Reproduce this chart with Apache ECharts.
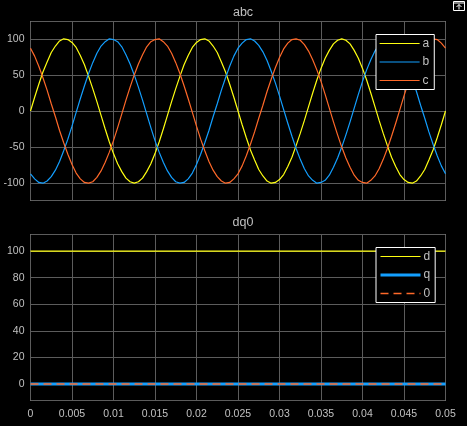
<!DOCTYPE html>
<html>
<head>
<meta charset="utf-8">
<style>
html,body{margin:0;padding:0;background:#000;}
#chart{width:467px;height:426px;}
</style>
<script src="https://cdn.jsdelivr.net/npm/echarts@6/dist/echarts.min.js"></script>
</head>
<body>
<div id="chart"></div>
<script>
const time = [0,0.0005,0.001,0.0015,0.002,0.0025,0.003,0.0035,0.004,0.0045,
  0.005,0.0055,0.006,0.0065,0.007,0.0075,0.008,0.0085,0.009,0.0095,
  0.010,0.0105,0.011,0.0115,0.012,0.0125,0.013,0.0135,0.014,0.0145,
  0.015,0.0155,0.016,0.0165,0.017,0.0175,0.018,0.0185,0.019,0.0195,
  0.020,0.0205,0.021,0.0215,0.022,0.0225,0.023,0.0235,0.024,0.0245,
  0.025,0.0255,0.026,0.0265,0.027,0.0275,0.028,0.0285,0.029,0.0295,
  0.030,0.0305,0.031,0.0315,0.032,0.0325,0.033,0.0335,0.034,0.0345,
  0.035,0.0355,0.036,0.0365,0.037,0.0375,0.038,0.0385,0.039,0.0395,
  0.040,0.0405,0.041,0.0415,0.042,0.0425,0.043,0.0435,0.044,0.0445,
  0.045,0.0455,0.046,0.0465,0.047,0.0475,0.048,0.0485,0.049,0.0495,0.050];
const aVals = [0,19,37,54,68,81,90,97,100,99,95,88,77,64,48,31,13,-6,-25,-43,
  -59,-73,-84,-93,-98,-100,-98,-93,-84,-73,-59,-43,-25,-6,13,31,48,64,77,88,
  95,99,100,97,90,81,68,54,37,19,0,-19,-37,-54,-68,-81,-90,-97,-100,-99,
  -95,-88,-77,-64,-48,-31,-13,6,25,43,59,73,84,93,98,100,98,93,84,73,
  59,43,25,6,-13,-31,-48,-64,-77,-88,-95,-99,-100,-97,-90,-81,-68,-54,-37,-19,0];
const bVals = [-87,-94,-99,-100,-97,-91,-82,-70,-55,-39,-21,-2,17,35,52,67,80,90,96,100,
  99,96,89,78,65,50,33,15,-4,-23,-41,-57,-71,-83,-92,-98,-100,-99,-94,-86,
  -74,-60,-44,-27,-8,10,29,46,62,76,87,94,99,100,97,91,82,70,55,39,
  21,2,-17,-35,-52,-67,-80,-90,-96,-100,-99,-96,-89,-78,-65,-50,-33,-15,4,23,
  41,57,71,83,92,98,100,99,94,86,74,60,44,27,8,-10,-29,-46,-62,-76,-87];
const cVals = [87,76,62,46,29,10,-8,-27,-44,-60,-74,-86,-94,-99,-100,-98,-92,-83,-71,-57,
  -41,-23,-4,15,33,50,65,78,89,96,99,100,96,90,80,67,52,35,17,-2,
  -21,-39,-55,-70,-82,-91,-97,-100,-99,-94,-87,-76,-62,-46,-29,-10,8,27,44,60,
  74,86,94,99,100,98,92,83,71,57,41,23,4,-15,-33,-50,-65,-78,-89,-96,
  -99,-100,-96,-90,-80,-67,-52,-35,-17,2,21,39,55,70,82,91,97,100,99,94,87];
const dqTime = [0, 0.05];
const dVals = [100, 100];
const qVals = [0, 0];
const zVals = [0, 0];

const pair = (t, v) => t.map((x, i) => [x, v[i]]);
const txt = '#c0c0c0';
const box = '#d8d8d8';
const gridC = '#5c5c5c';
const YEL = '#ffff11', BLU = '#139fff', ORG = '#ff6929';
const font = 'Liberation Sans, Arial, sans-serif';

function xAx(gi, showLabel) {
  return {
    type: 'value', gridIndex: gi, min: 0, max: 0.05, interval: 0.005,
    axisLine: {show: false}, axisTick: {show: false},
    axisLabel: {show: showLabel, color: txt, fontSize: 10.5, fontFamily: font, margin: 8,
      formatter: v => String(+v.toFixed(3))},
    splitLine: {show: true, lineStyle: {color: gridC, width: 1}}
  };
}
function yAx(gi, min, max, split) {
  return {
    type: 'value', gridIndex: gi, min: min, max: max, splitNumber: split,
    axisLine: {show: false}, axisTick: {show: false},
    axisLabel: {color: txt, fontSize: 10.5, fontFamily: font, margin: 6, showMinLabel: false, showMaxLabel: false},
    splitLine: {show: true, lineStyle: {color: gridC, width: 1}}
  };
}
function legendBox(top, names) {
  return {
    orient: 'vertical', left: 376, top: top, data: names,
    backgroundColor: '#000', borderColor: '#ffffff', borderWidth: 1,
    padding: [3, 5, 3, 3], itemWidth: 40, itemHeight: 10, itemGap: 6.5,
    itemStyle: {opacity: 0, borderWidth: 0},
    lineStyle: {width: 'inherit', type: 'inherit'},
    textStyle: {color: txt, fontSize: 12, fontFamily: font, padding: [0, 0, 0, -2]},
    selectedMode: false
  };
}
function ln(name, gi, t, v, color, width, type) {
  return {name: name, type: 'line', xAxisIndex: gi, yAxisIndex: gi, data: pair(t, v),
    symbol: 'none', showSymbol: false,
    lineStyle: {color: color, width: width, type: type || 'solid'}, itemStyle: {color: color}};
}

const chart = echarts.init(document.getElementById('chart'), null, {renderer: 'canvas'});
chart.setOption({
  backgroundColor: '#000',
  animation: false,
  title: [
    {text: 'abc', left: 238, top: 1, textAlign: 'center', textStyle: {color: txt, fontSize: 12.5, fontWeight: 'normal', fontFamily: font}},
    {text: 'dq0', left: 238, top: 211, textAlign: 'center', textStyle: {color: txt, fontSize: 12.5, fontWeight: 'normal', fontFamily: font}}
  ],
  grid: [
    {left: 30.5, top: 21.5, width: 415, height: 179, show: true, borderColor: box, borderWidth: 1, backgroundColor: 'transparent', containLabel: false},
    {left: 30.5, top: 234.5, width: 415, height: 166, show: true, borderColor: box, borderWidth: 1, backgroundColor: 'transparent', containLabel: false}
  ],
  xAxis: [xAx(0, false), xAx(1, true)],
  yAxis: [yAx(0, -124, 124, 5), yAx(1, -12.5, 112.5, 6)],
  legend: [legendBox(34.5, ['a', 'b', 'c']), legendBox(247.5, ['d', 'q', '0'])],
  series: [
    ln('a', 0, time, aVals, YEL, 1.2),
    ln('b', 0, time, bVals, BLU, 1.2),
    ln('c', 0, time, cVals, ORG, 1.2),
    ln('d', 1, dqTime, dVals, YEL, 1.2),
    ln('q', 1, dqTime, qVals, BLU, 3),
    ln('0', 1, dqTime, zVals, ORG, 1.5, [8, 5])
  ],
  graphic: [
    {type: 'rect', shape: {x: 453.5, y: 1.5, width: 11, height: 9}, style: {fill: 'none', stroke: '#ffffff', lineWidth: 1}},
    {type: 'line', shape: {x1: 453.5, y1: 3, x2: 464.5, y2: 3}, style: {stroke: '#ffffff', lineWidth: 1}},
    {type: 'line', shape: {x1: 459, y1: 9.5, x2: 459, y2: 4.5}, style: {stroke: '#ffffff', lineWidth: 1}},
    {type: 'polyline', shape: {points: [[456.5, 7], [459, 4.5], [461.5, 7]]}, style: {stroke: '#ffffff', fill: 'none', lineWidth: 1}}
  ]
});
</script>
</body>
</html>
